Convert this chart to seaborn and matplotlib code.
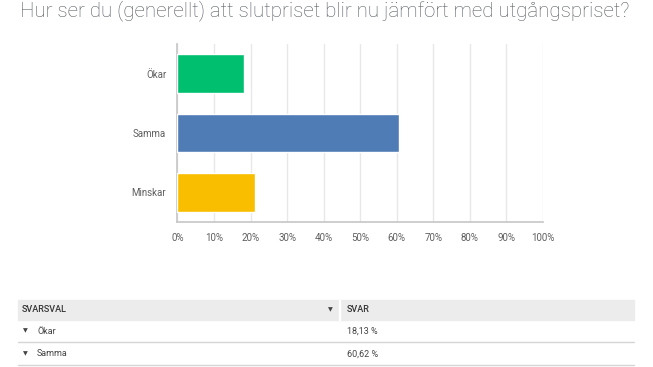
import matplotlib.pyplot as plt
import seaborn as sns
import pandas as pd

# survey answers
answers = ["Ökar", "Samma", "Minskar"]
shares = [18.13, 60.62, 21.25]
colors = ["#00bf6f", "#507cb6", "#f9be00"]
ticks = list(range(0, 101, 10))
table_rows = ["Ökar", "Samma"]
table_vals = ["18,13 %", "60,62 %"]

sns.set_theme(style="white")
plt.rcParams["font.family"] = ["Roboto", "DejaVu Sans"]

df = pd.DataFrame({"svar": answers, "andel": shares})

fig = plt.figure(figsize=(6.53, 3.67), dpi=100)
ax = fig.add_axes([0.2718, 0.395, 0.5597, 0.485])
sns.barplot(data=df, y="svar", x="andel", hue="svar", palette=colors,
            width=0.65, saturation=1, legend=False, ax=ax, zorder=3)
ax.set_xlim(0, 100)
ax.set_ylim(2.5, -0.5)
ax.set_xticks(ticks)
ax.set_xticklabels([f"{t}%" for t in ticks])
ax.set_xlabel("")
ax.set_ylabel("")
ax.grid(axis="x", color="#e8e8e8", linewidth=1, zorder=0)
for s in ["top", "right"]:
    ax.spines[s].set_visible(False)
for s in ["left", "bottom"]:
    ax.spines[s].set_color("#c8c8c8")
ax.tick_params(axis="both", length=0, labelsize=7, colors="#5f5f5f", pad=8)

# title at the top edge
fig.text(0.031, 1.0, "Hur ser du (generellt) att slutpriset blir nu jämfört med utgångspriset?",
         fontsize=14.8, color="#555a60", va="top", ha="left", fontweight="light")

# table below the chart
def px(x, y):
    return x / 653, 1 - y / 367

hx, hy = px(18, 320)
fig.patches.append(plt.Rectangle((hx, hy), (634 - 18) / 653, 20 / 367,
                                 transform=fig.transFigure, color="#ececec", zorder=0))
fig.patches.append(plt.Rectangle(px(339, 320), 1.2 / 653, 20 / 367,
                                 transform=fig.transFigure, color="#ffffff", zorder=1))
fig.text(*px(22, 310), "SVARSVAL", fontsize=6.5, color="#333333", va="center", fontweight="medium")
fig.text(*px(347, 310), "SVAR", fontsize=6.5, color="#333333", va="center", fontweight="medium")
fig.text(*px(330, 310), "▼", fontsize=4.5, color="#444444", va="center", ha="center", family="DejaVu Sans")

for i, (name, val) in enumerate(zip(table_rows, table_vals)):
    yc = 331 + i * 23
    fig.text(*px(25, yc), "▼", fontsize=4.5, color="#444444", va="center", ha="center", family="DejaVu Sans")
    fig.text(*px(37, yc), name, fontsize=6.5, color="#444444", va="center")
    fig.text(*px(347, yc), val, fontsize=6.5, color="#444444", va="center")
    ly = 1 - (342 + i * 23) / 367
    fig.add_artist(plt.Line2D([18 / 653, 634 / 653], [ly, ly], transform=fig.transFigure,
                              color="#d5d5d5", linewidth=1))

plt.savefig("out.png", dpi=100)
